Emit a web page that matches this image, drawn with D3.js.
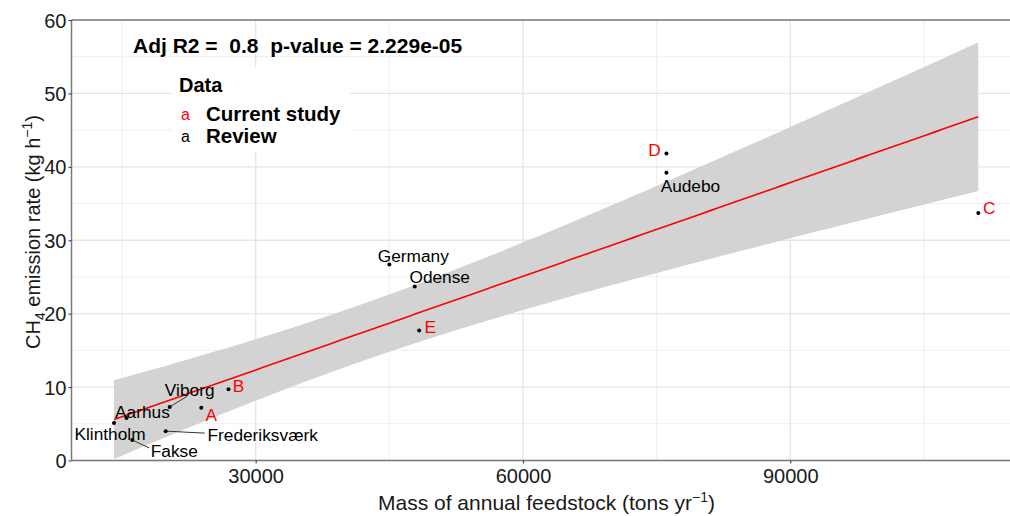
<!DOCTYPE html>
<html>
<head>
<meta charset="utf-8">
<script src="https://cdn.jsdelivr.net/npm/d3@7/dist/d3.min.js"></script>
<style>
  body { margin: 0; background: #fff; }
  svg { display: block; font-family: "Liberation Sans", Arial, sans-serif; }
</style>
</head>
<body>
<svg id="chart" width="1010" height="516"></svg>
<script>
// Biogas plants: annual feedstock (tons/yr) vs CH4 emission rate (kg/h)
const sites     = ["Klintholm", "Aarhus", "Fakse", "Frederiksværk", "Viborg", "A", "B",
                   "Germany", "Odense", "E", "Audebo", "D", "C"];
const feedstock = [14100, 15500, 16150, 19900, 20350, 23900, 26950,
                   45000, 47850, 48350, 76100, 76100, 111100];
const emission  = [5.1, 5.8, 2.8, 4.0, 7.3, 7.2, 9.7,
                   26.7, 23.7, 17.7, 39.2, 41.8, 33.7];
const source    = ["Review", "Review", "Review", "Review", "Review", "Current study", "Current study",
                   "Review", "Review", "Current study", "Review", "Current study", "Current study"];

const xTicks = [30000, 60000, 90000];
const xMinor = [15000, 45000, 75000, 105000];
const yTicks = [0, 10, 20, 30, 40, 50, 60];
const yMinor = [5, 15, 25, 35, 45, 55];
const legendKeys = ["Current study", "Review"];
const statText = "Adj R2 =  0.8  p-value = 2.229e-05";

// label placement (pixel offsets of label centre from its point; connector drawn where set)
const labelPlacement = {
  "Klintholm":     { dx: -4,  dy: 11 },
  "Aarhus":        { dx: 16,  dy: -6 },
  "Fakse":         { dx: 42,  dy: 11, seg: [17, 8] },
  "Frederiksværk": { dx: 97,  dy: 4,  seg: [39, 2] },
  "Viborg":        { dx: 20,  dy: -17, seg: [18, -11] },
  "A":             { dx: 10,  dy: 7 },
  "B":             { dx: 10,  dy: -3 },
  "Germany":       { dx: 24,  dy: -8 },
  "Odense":        { dx: 25,  dy: -10 },
  "E":             { dx: 11,  dy: -4 },
  "Audebo":        { dx: 24,  dy: 13 },
  "D":             { dx: -12, dy: -4 },
  "C":             { dx: 11,  dy: -5 }
};

const colour = { "Current study": "#ff0000", "Review": "#000000" };

const data = sites.map((s, i) => ({ site: s, x: feedstock[i], y: emission[i], src: source[i] }));

const svg = d3.select("#chart");
const panel = { left: 71.5, top: 20, bottom: 460.5, right: 1021.5 };

const x = d3.scaleLinear().domain([9330, 115950]).range([panel.left, panel.right]);
const y = d3.scaleLinear().domain([0, 60]).range([panel.bottom, panel.top]);

svg.append("defs").append("clipPath").attr("id", "pclip")
  .append("rect").attr("x", panel.left).attr("y", panel.top)
  .attr("width", panel.right - panel.left).attr("height", panel.bottom - panel.top);

const grid = svg.append("g");
grid.selectAll(".ym").data(yMinor).join("line")
  .attr("x1", panel.left).attr("x2", panel.right)
  .attr("y1", d => y(d)).attr("y2", d => y(d))
  .attr("stroke", "#efefef").attr("stroke-width", 1);
grid.selectAll(".xm").data(xMinor).join("line")
  .attr("y1", panel.top).attr("y2", panel.bottom)
  .attr("x1", d => x(d)).attr("x2", d => x(d))
  .attr("stroke", "#efefef").attr("stroke-width", 1);
grid.selectAll(".yM").data(yTicks).join("line")
  .attr("x1", panel.left).attr("x2", panel.right)
  .attr("y1", d => y(d)).attr("y2", d => y(d))
  .attr("stroke", "#e6e6e6").attr("stroke-width", 1.4);
grid.selectAll(".xM").data(xTicks).join("line")
  .attr("y1", panel.top).attr("y2", panel.bottom)
  .attr("x1", d => x(d)).attr("x2", d => x(d))
  .attr("stroke", "#e6e6e6").attr("stroke-width", 1.4);

// Ordinary least squares fit with 95% confidence band
const n = data.length;
const mx = d3.mean(data, d => d.x), my = d3.mean(data, d => d.y);
const sxx = d3.sum(data, d => (d.x - mx) ** 2);
const sxy = d3.sum(data, d => (d.x - mx) * (d.y - my));
const slope = sxy / sxx, intercept = my - slope * mx;
const sse = d3.sum(data, d => (d.y - intercept - slope * d.x) ** 2);
const sigma = Math.sqrt(sse / (n - 2));
const tCrit = 2.200985; // 97.5% quantile of Student t, 11 df
const [xLo, xHi] = d3.extent(data, d => d.x);
const fit = d3.range(0, 81).map(k => {
  const xv = xLo + (xHi - xLo) * k / 80;
  const yh = intercept + slope * xv;
  const se = sigma * Math.sqrt(1 / n + (xv - mx) ** 2 / sxx);
  return { x: xv, y: yh, lo: yh - tCrit * se, hi: yh + tCrit * se };
});

const plot = svg.append("g").attr("clip-path", "url(#pclip)");
plot.append("path").datum(fit)
  .attr("d", d3.area().x(d => x(d.x)).y0(d => y(d.lo)).y1(d => y(d.hi)))
  .attr("fill", "#d3d3d3");
plot.append("path").datum(fit)
  .attr("d", d3.line().x(d => x(d.x)).y(d => y(d.y)))
  .attr("fill", "none").attr("stroke", "#ff0000").attr("stroke-width", 1.6);

// connectors
plot.selectAll(".seg").data(data.filter(d => labelPlacement[d.site].seg)).join("line")
  .attr("x1", d => x(d.x)).attr("y1", d => y(d.y))
  .attr("x2", d => x(d.x) + labelPlacement[d.site].seg[0])
  .attr("y2", d => y(d.y) + labelPlacement[d.site].seg[1])
  .attr("stroke", "#333").attr("stroke-width", 1);

plot.selectAll(".pt").data(data).join("circle")
  .attr("cx", d => x(d.x)).attr("cy", d => y(d.y)).attr("r", 2)
  .attr("fill", "#000");

plot.selectAll(".lab").data(data).join("text")
  .attr("x", d => x(d.x) + labelPlacement[d.site].dx)
  .attr("y", d => y(d.y) + labelPlacement[d.site].dy)
  .attr("text-anchor", "middle").attr("dominant-baseline", "central")
  .attr("font-size", 17.3).attr("fill", d => colour[d.src])
  .text(d => d.site);

// panel border and axes
svg.append("line").attr("x1", panel.left).attr("x2", panel.right)
  .attr("y1", panel.top).attr("y2", panel.top).attr("stroke", "#7a7a7a").attr("stroke-width", 1.5);
svg.append("line").attr("x1", panel.left).attr("x2", panel.left)
  .attr("y1", panel.top).attr("y2", panel.bottom).attr("stroke", "#7a7a7a").attr("stroke-width", 1.5);
svg.append("line").attr("x1", panel.left).attr("x2", panel.right)
  .attr("y1", panel.bottom).attr("y2", panel.bottom).attr("stroke", "#7a7a7a").attr("stroke-width", 1.5);

const xAxis = svg.append("g").attr("transform", `translate(0,${panel.bottom})`)
  .call(d3.axisBottom(x).tickValues(xTicks).tickSize(3).tickSizeOuter(0).tickFormat(d3.format("d")));
const yAxis = svg.append("g").attr("transform", `translate(${panel.left},0)`)
  .call(d3.axisLeft(y).tickValues(yTicks).tickSize(3).tickSizeOuter(0).tickFormat(d3.format("d")));
[xAxis, yAxis].forEach(a => {
  a.select(".domain").remove();
  a.selectAll(".tick line").attr("stroke", "#333");
  a.selectAll(".tick text").attr("font-size", 20).attr("fill", "#1a1a1a")
    .attr("font-family", "Liberation Sans, Arial, sans-serif");
});
xAxis.selectAll(".tick text").attr("dy", "0.71em").attr("y", 8);
yAxis.selectAll(".tick text").attr("x", -5).attr("dy", "0.35em");

// axis titles
const xt = svg.append("text").attr("x", (panel.left + panel.right) / 2).attr("y", 510)
  .attr("text-anchor", "middle").attr("font-size", 21).attr("fill", "#1a1a1a");
xt.append("tspan").text("Mass of annual feedstock (tons yr");
xt.append("tspan").attr("dy", -8).attr("font-size", 14).text("−1");
xt.append("tspan").attr("dy", 8).text(")");

const yt = svg.append("text").attr("transform", "translate(40,232) rotate(-90)")
  .attr("text-anchor", "middle").attr("font-size", 20).attr("fill", "#1a1a1a");
yt.append("tspan").text("CH");
yt.append("tspan").attr("dy", 5).attr("font-size", 14).text("4");
yt.append("tspan").attr("dy", -5).text(" emission rate (kg h");
yt.append("tspan").attr("dy", -8).attr("font-size", 14).text("−1");
yt.append("tspan").attr("dy", 8).text(")");

// fit statistics
svg.append("text").attr("x", 133).attr("y", 53).attr("font-size", 21)
  .attr("font-weight", "bold").attr("fill", "#000").attr("xml:space", "preserve")
  .style("white-space", "pre").text(statText);

// legend
const lg = svg.append("g");
lg.append("rect").attr("x", 172).attr("y", 67).attr("width", 178).attr("height", 84).attr("fill", "#fff");
lg.append("text").attr("x", 179).attr("y", 92).attr("font-size", 20)
  .attr("font-weight", "bold").attr("fill", "#000").text("Data");
lg.selectAll(".key").data(legendKeys).join("text")
  .attr("x", 181).attr("y", (d, i) => 120 + i * 21.5).attr("font-size", 16)
  .attr("fill", d => colour[d]).text("a");
lg.selectAll(".kl").data(legendKeys).join("text")
  .attr("x", 206).attr("y", (d, i) => 121 + i * 21.5).attr("font-size", 20.5)
  .attr("font-weight", "bold").attr("fill", "#000").text(d => d);
</script>
</body>
</html>
